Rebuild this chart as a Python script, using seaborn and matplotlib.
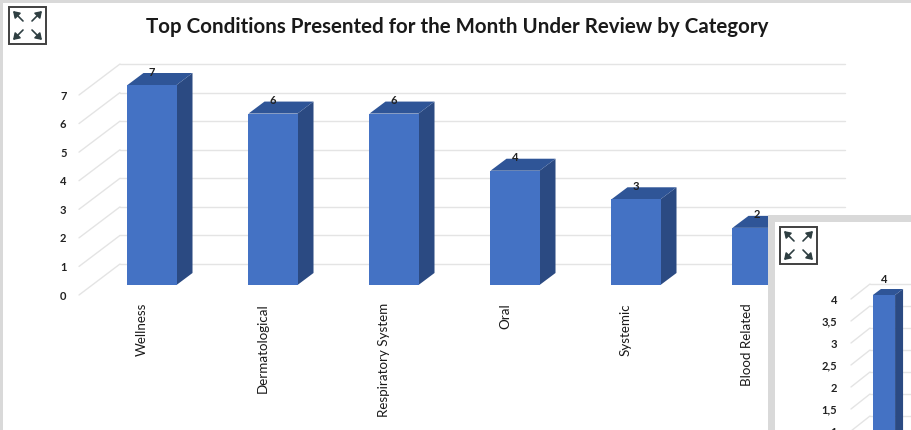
import matplotlib
matplotlib.use("Agg")
import matplotlib.pyplot as plt
import seaborn as sns
from matplotlib.patches import Polygon, Rectangle
from matplotlib.transforms import ScaledTranslation

categories = ["Wellness", "Dermatological", "Respiratory System", "Oral", "Systemic", "Blood Related"]
values = [7, 6, 6, 4, 3, 2]
y_ticks = [0, 1, 2, 3, 4, 5, 6, 7]
y_labels = ["0", "1", "2", "3", "4", "5", "6", "7"]

title = "Top Conditions Presented for the Month Under Review by Category"

inset_categories = [""]
inset_values = [4]
inset_ticks = [1, 1.5, 2, 2.5, 3, 3.5, 4]
inset_labels = ["1", "1,5", "2", "2,5", "3", "3,5", "4"]

W, H = 912, 430
FRONT = "#4472c4"
SIDE = "#2b4a82"
TOP = "#2f5597"
GRID = "#e4e4e4"
FRAME = "#d9d9d9"
INK = "#222222"

sns.set_theme(style="white")
plt.rcParams["font.family"] = ["Lato", "DejaVu Sans"]

fig = plt.figure(figsize=(W / 100, H / 100), dpi=100, facecolor="white")


def px_axes(left, top, right, bottom, zorder):
    a = fig.add_axes([left / W, 1 - bottom / H, (right - left) / W, (bottom - top) / H])
    a.set_zorder(zorder)
    a.patch.set_alpha(0)
    return a


def chart(ax, cats, vals, ticks, labels, ppx, ppy, bar_w, depth, floor, diag, grid_end, lab_up, tick_pad, fs):
    # ppx / ppy = pixels per category / per unit, everything else below is in pixels
    dx, dy = depth[0] / ppx, depth[1] / ppy
    back, front = floor[0] / ppy, floor[1] / ppy
    diag_x = diag / ppx
    for t in ticks:
        ax.plot([-0.5 + diag_x, -0.5 + diag_x + floor[2] / ppx], [t - front, t + back], color=GRID, lw=1, zorder=0,
                clip_on=False)
        ax.plot([-0.5 + diag_x + floor[2] / ppx, grid_end], [t + back, t + back], color=GRID, lw=1, zorder=0,
                clip_on=False)

    sns.barplot(x=cats, y=vals, color=FRONT, saturation=1, width=bar_w, ax=ax, zorder=3, linewidth=0, edgecolor="none")

    for i, v in enumerate(vals):
        l, r = i - bar_w / 2, i + bar_w / 2
        ax.add_patch(Polygon([(r, 0), (r + dx, dy), (r + dx, v + dy), (r, v)], color=SIDE, lw=0, zorder=2, clip_on=False))
        ax.add_patch(Polygon([(l, v), (l + dx, v + dy), (r + dx, v + dy), (r, v)], color=TOP, lw=0, zorder=2, clip_on=False))
        ax.text(i, v + lab_up / ppy, str(v), ha="center", va="center", fontsize=fs, fontweight="bold", color=INK, zorder=4)

    ax.set_yticks([t - front for t in ticks], labels)
    ax.tick_params(axis="y", length=0, pad=tick_pad * 0.72, labelsize=fs, labelcolor=INK)
    for lab in ax.get_yticklabels():
        lab.set_fontweight("bold")
    ax.set_ylabel("")
    ax.set_xlabel("")
    sns.despine(ax=ax, left=True, bottom=True)


# main chart, y: 0 at 285 px and 7 at 85 px
main_ppy = 200 / 7
ax = px_axes(91.5, 57, 817.5, 300, 1)
chart(ax, categories, values, y_ticks, y_labels, 121, main_ppy, 0.405, (16, 12), (21, 10, 41), -12.5,
      5.73, 13, 25, 8)
ax.set_xlim(-0.5, 5.5)
ax.set_ylim(-15 / main_ppy, 228 / main_ppy)
ax.tick_params(axis="x", length=0, pad=2.2, labelsize=9.6, labelcolor="#1a1a1a")
shift = ScaledTranslation(-10 / 100, 0, fig.dpi_scale_trans)
for lab in ax.get_xticklabels():
    lab.set_rotation(90)
    lab.set_va("top")
    lab.set_ha("center")
    lab.set_transform(lab.get_transform() + shift)

# grey frames, white panel and the expand icons live on a pixel overlay
over = px_axes(0, 0, W, H, 2)
over.set_xlim(0, W)
over.set_ylim(H, 0)
over.axis("off")
over.add_patch(Rectangle((0, 0), W, 3, color=FRAME, lw=0))
over.add_patch(Rectangle((0, 0), 3, H, color=FRAME, lw=0))
over.add_patch(Rectangle((768, 215), W - 768, H - 215, color=FRAME, lw=0))
over.add_patch(Rectangle((775, 222), W - 775, H - 222, color="white", lw=0))


def icon(x0, y0, size=37):
    over.add_patch(Rectangle((x0, y0), size, size, fill=False, ec="#404040", lw=1.4))
    m = 4
    k = size * 0.27
    corners = [(x0 + m, y0 + m, 1, 1), (x0 + size - m, y0 + m, -1, 1),
               (x0 + m, y0 + size - m, 1, -1), (x0 + size - m, y0 + size - m, -1, -1)]
    for cx, cy, sx, sy in corners:
        over.annotate("", xy=(cx, cy), xytext=(cx + sx * k, cy + sy * k),
                      arrowprops=dict(arrowstyle="-|>,head_width=0.2,head_length=0.3", color="#2f3f42", lw=1.2,
                                      shrinkA=0, shrinkB=0))


icon(9, 7)
icon(780, 227)
over.text(457, 27, title, ha="center", va="center", fontsize=14.8, fontweight="bold", color="#1a1a1a")

# second chart, runs off the edge of the picture
ins_ppy = 44
ins = px_axes(857, 270, 911, 450, 3)
chart(ins, inset_categories, inset_values, inset_ticks, inset_labels, 54, ins_ppy, 0.41, (8, 6), (11, 4, 19), -6,
      1.2, 16, 20, 8)
ins.set_xlim(-0.5, 0.5)
ins.set_ylim(4 - 155 / ins_ppy, 4 + 25 / ins_ppy)
ins.tick_params(axis="x", length=0, labelbottom=False)

fig.savefig("out.png", dpi=100)
